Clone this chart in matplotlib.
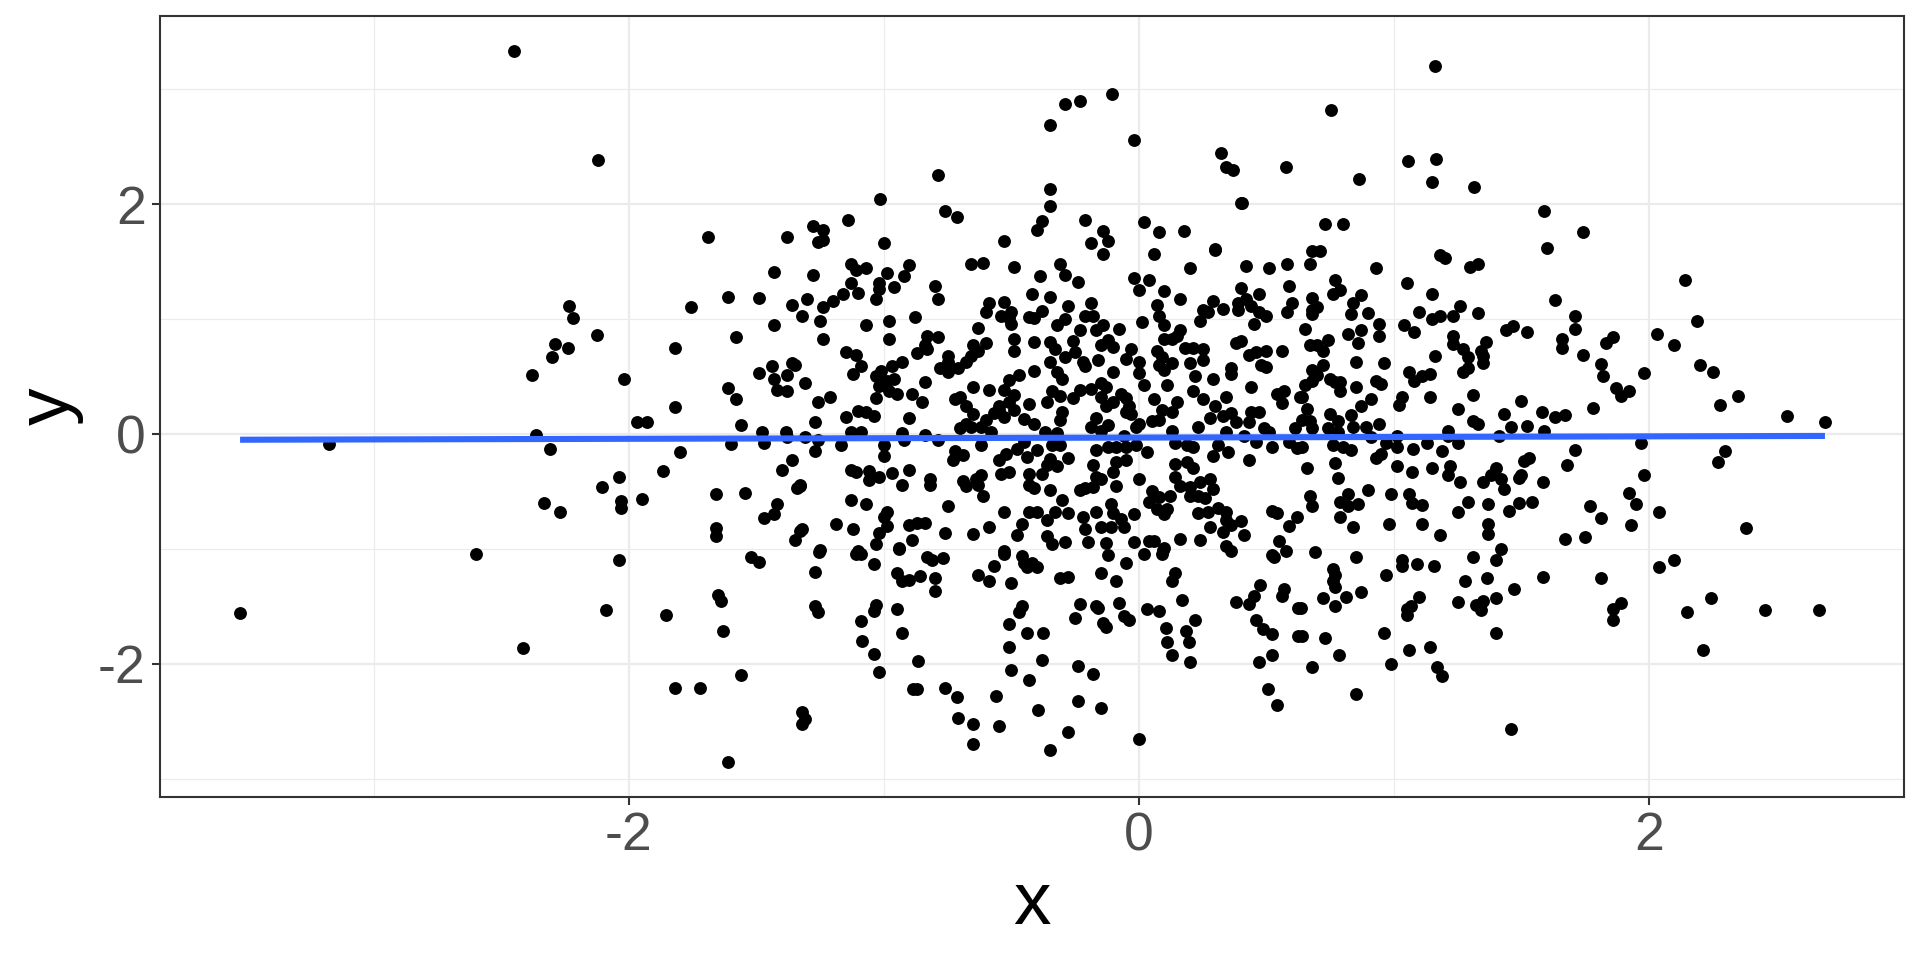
import numpy as np
import matplotlib
matplotlib.use("Agg")
import matplotlib.pyplot as plt

# far-left and outer points
x_left = [-2.45,-3.525,-3.175,-2.60,-2.417,-2.38,-2.12,-2.235,-2.22,-2.29,-2.24,-2.30,-2.125,-2.02,-2.365,-2.31,-2.335,-2.27,-2.105,-2.04,-2.03,-2.03,-1.95,-1.97,-1.93,-2.04,-2.09,-1.855,-1.865,-1.80,-1.82,-1.82,-1.755,-1.82,-1.017,-0.79]
y_left = [3.33,-1.553,-0.085,-1.04,-1.86,0.51,2.38,1.117,1.01,0.78,0.745,0.67,0.86,0.48,-0.01,-0.13,-0.60,-0.68,-0.46,-0.37,-0.585,-0.64,-0.565,0.106,0.106,-1.10,-1.53,-1.575,-0.32,-0.16,0.234,0.745,1.10,-2.21,2.04,2.255]

x_right = [1.16,0.753,1.055,1.165,1.15,1.314,0.863,2.25,2.35,2.278,2.54,2.69,2.30,2.27,2.38,2.245,2.456,2.667]
y_right = [3.20,2.82,2.37,2.39,2.19,2.15,2.22,0.54,0.33,0.255,0.16,0.106,-0.15,-0.245,-0.82,-1.425,-1.53,-1.53]

x_a1 = [-1.13,-1.11,-1.07,-0.99,-0.90,-1.28,-0.92,-1.13,-1.02,-0.96,-1.02,-1.16,-1.10,-1.03,-1.20,-1.30,-1.24,-1.32,-1.25,-1.24,-1.07,-0.98,-0.98,-0.88,-0.80,-0.79,-0.66,-0.61,-0.49,-0.31,-0.29,-0.39,-0.24,-0.14,0.06,0.30,-0.02,0.04,0.00,0.10,0.16,0.20,0.42,0.51,0.58,0.59,0.40,0.47,0.60,0.58]
y_a1 = [1.48,1.43,1.44,1.40,1.47,1.38,1.37,1.31,1.31,1.28,1.26,1.22,1.23,1.17,1.16,1.17,1.10,1.03,0.98,0.83,0.95,0.98,0.83,1.02,1.29,1.17,1.48,1.49,1.45,1.48,1.38,1.37,1.32,1.565,1.565,1.60,1.36,1.34,1.25,1.24,1.17,1.44,1.46,1.44,1.48,1.29,1.27,1.22,1.14,1.06]

x_a2 = [-0.42,-0.35,-0.59,-0.53,-0.60,-0.50,-0.54,-0.51,-0.50,-0.43,-0.41,-0.38,-0.28,-0.19,-0.21,-0.18,-0.29,-0.32,-0.14,-0.17,-0.23,-0.08,0.01,0.07,0.08,0.10,0.16,0.15,0.10,0.13,0.24,0.25,0.27,0.29,0.33,0.39,0.39,0.42,0.44,0.47,0.50,0.45]
y_a2 = [1.22,1.19,1.14,1.15,1.06,1.06,1.03,1.01,0.96,1.02,1.01,1.07,1.11,1.14,1.03,1.03,1.00,0.95,0.95,0.90,0.90,0.91,0.97,1.12,1.03,0.95,0.90,0.85,0.83,0.83,0.98,1.08,1.06,1.16,1.09,1.08,1.14,1.17,1.11,1.06,1.03,0.96]

x_a3 = [-0.63,-0.49,-0.49,-0.60,-0.41,-0.35,-0.33,-0.26,-0.25,-0.29,-0.15,-0.12,-0.10,-0.03,-0.05,0.00,-0.16,-0.35,-0.22,-0.21,-0.41,-0.10,-0.32,-0.30,0.00,0.02,0.07,0.09,0.13,0.08,0.10,0.11,0.18,0.21,0.25,0.25,0.20,0.22,0.29,0.21,0.36,0.36,0.38,0.40,0.43,0.46,0.50,0.56,0.48,0.50,0.44,0.54,0.57,0.56,0.63,0.25,0.34,0.30,0.28,0.33,0.36,0.38,0.43,0.44,0.47]
y_a3 = [0.92,0.83,0.72,0.79,0.80,0.80,0.74,0.81,0.71,0.67,0.77,0.82,0.76,0.74,0.65,0.63,0.64,0.63,0.63,0.59,0.55,0.54,0.54,0.48,0.53,0.43,0.72,0.67,0.62,0.60,0.56,0.43,0.75,0.75,0.74,0.64,0.62,0.50,0.48,0.37,0.57,0.52,0.79,0.81,0.69,0.71,0.72,0.72,0.60,0.58,0.41,0.35,0.37,0.27,0.32,0.30,0.32,0.24,0.14,0.16,0.18,0.10,0.10,0.19,0.19]

x_a4 = [-1.15,-1.11,-1.09,-1.12,-1.31,-0.87,-0.83,-0.79,-0.84,-0.83,-0.93,-0.97,-1.01,-1.03,-0.96,-0.99,-1.02,-0.98,-0.95,-1.03,-0.89,-0.84,-0.85,-1.21,-1.26,-0.75,-0.75,-0.78,-0.75,-0.71,-0.68,-0.66,-0.65,-0.63,-0.47,-0.51,-0.53,-0.49,-0.51,-0.65,-0.59,-0.72,-0.70,-0.68,-0.55,-0.43,-0.36,-0.34,-0.31,-0.26,-0.23,-0.19,-0.15,-0.13,-0.15,-0.13,-0.10,-0.07,-0.05,-0.04,-0.05,-0.03,0.06,0.15,0.13,0.09,0.08,0.05,0.00,-0.01,-0.12,-0.17,-0.19,-0.15,-0.30,-0.31,-0.41,-0.45,-0.49,-0.53,-0.57,-0.55,-0.60,-0.65,-0.68,-0.70,-0.66,-0.62,-0.58,-1.10,-1.07,-1.04,-1.15,-1.27,-0.90,-1.13,-1.09,-0.93,-0.84,-1.31,-1.26,-1.17,-1.27,-1.00,-1.00,-0.92,-0.79]
y_a4 = [0.71,0.69,0.59,0.52,0.44,0.70,0.85,0.84,0.77,0.74,0.63,0.59,0.55,0.50,0.48,0.46,0.42,0.37,0.35,0.31,0.35,0.45,0.28,0.32,0.28,0.68,0.63,0.57,0.54,0.57,0.63,0.68,0.77,0.72,0.51,0.47,0.38,0.34,0.28,0.41,0.38,0.30,0.32,0.24,0.24,0.26,0.28,0.37,0.33,0.31,0.38,0.39,0.44,0.41,0.32,0.24,0.28,0.35,0.31,0.24,0.19,0.17,0.30,0.28,0.19,0.21,0.12,0.11,0.09,0.06,0.08,0.14,0.06,0.03,0.19,0.12,0.09,0.13,0.21,0.15,0.18,0.21,0.12,0.17,0.09,0.05,0.06,0.06,0.02,0.20,0.19,0.16,0.15,0.10,0.14,0.02,0.02,0.01,-0.01,-0.03,-0.05,-0.10,-0.15,-0.10,-0.19,-0.05,-0.05]

x_a5 = [-0.37,-0.32,-0.45,-0.48,-0.52,-0.55,-0.62,-0.40,-0.44,-0.34,-0.31,-0.28,-0.17,-0.12,-0.09,-0.05,-0.01,-0.06,0.03,0.13,0.23,0.14,0.19,0.21,0.34,0.31,0.35,0.29,0.41,0.46,0.49,0.51,0.52,0.61,0.59,0.62,0.43]
y_a5 = [0.02,0.01,-0.07,-0.13,-0.17,-0.23,-0.10,-0.14,-0.20,-0.10,-0.10,-0.21,-0.14,-0.11,-0.11,-0.11,-0.10,-0.02,-0.16,0.03,0.06,-0.08,-0.10,-0.11,0.02,-0.10,-0.16,-0.19,-0.02,-0.07,0.05,0.02,-0.11,0.05,-0.07,-0.12,-0.23]

x_a6 = [-0.72,-0.69,-0.73,-1.13,-1.11,-1.06,-1.06,-1.02,-0.97,-0.90,-0.82,-0.82,-0.93,-0.69,-0.68,-0.64,-0.62,-0.63,-0.61,-0.54,-0.51,-0.43,-0.43,-0.41,-0.38,-0.36,-0.35,-0.32,-0.18,-0.17,-0.15,-0.18,-0.21,-0.23,-0.09,-0.10,-0.09,-0.05,0.00,0.14,0.19,0.21,0.14,0.16,0.20,0.24,0.28,0.29,0.26,0.20,0.23,0.05,0.08,0.12,0.04,0.07,0.11,0.10]
y_a6 = [-0.15,-0.18,-0.23,-0.31,-0.33,-0.32,-0.40,-0.37,-0.34,-0.31,-0.39,-0.44,-0.44,-0.41,-0.45,-0.39,-0.36,-0.44,-0.54,-0.35,-0.33,-0.35,-0.44,-0.47,-0.35,-0.27,-0.22,-0.28,-0.27,-0.37,-0.39,-0.46,-0.47,-0.49,-0.24,-0.33,-0.45,-0.23,-0.39,-0.26,-0.24,-0.30,-0.37,-0.45,-0.46,-0.42,-0.39,-0.48,-0.56,-0.54,-0.54,-0.50,-0.55,-0.54,-0.59,-0.65,-0.65,-0.70]

x_a7 = [-1.33,-1.13,-1.07,-0.75,-0.35,-0.30,-0.53,-0.43,-0.40,-0.33,-0.28,-0.22,-0.17,-0.11,-0.10,-0.07,-0.02,-0.36,-0.46,0.23,0.27,0.31,0.34,0.34,0.40,0.36,0.33,0.28,0.41,0.52,0.54,0.62,0.59,0.55,0.16,0.24,0.34,-0.99,-1.00,-0.99,-1.02,-1.03,-0.94,-0.90,-0.87,-0.84,-0.89,-0.76,-0.65,-0.59,-0.48,-0.36,-0.34,-0.29,-0.21,-0.20,-0.15,-0.11,-0.06,-0.13,-0.02,0.04,0.06,0.10,-1.19,-1.12,-1.32,-1.25,-1.10,-0.53]
y_a7 = [-0.45,-0.57,-0.61,-0.63,-0.49,-0.57,-0.68,-0.68,-0.68,-0.68,-0.69,-0.72,-0.68,-0.61,-0.69,-0.74,-0.70,-0.75,-0.78,-0.69,-0.68,-0.64,-0.68,-0.75,-0.76,-0.79,-0.85,-0.81,-0.88,-0.67,-0.69,-0.72,-0.80,-0.93,-0.91,-0.92,-0.97,-0.68,-0.72,-0.80,-0.86,-0.96,-0.99,-0.79,-0.77,-0.77,-0.92,-0.86,-0.87,-0.81,-0.88,-0.89,-0.96,-0.94,-0.83,-0.94,-0.81,-0.81,-0.81,-0.95,-0.94,-0.93,-0.93,-0.99,-0.78,-0.83,-0.83,-1.01,-1.02,-1.02]

x_b1 = [0.73,0.80,0.68,0.71,0.67,0.93,0.77,0.79,0.76,0.87,0.68,0.84,0.70,0.68,0.68,0.83,0.90,0.94,0.65,0.87,0.82,0.94,0.86,0.74,0.67,0.70,0.72,0.85,0.96,0.72,0.68,0.70,0.75,0.68,0.65,0.77,0.79,0.85,0.93,0.95,0.79,0.64,0.91,0.87,0.66,0.75,0.83,0.64,0.67,0.78,0.94,0.68,0.74,0.84,0.89,0.78,0.91,1.01,0.64,0.76,0.80,0.83,1.01,0.97,0.66,0.77,0.78,1.01,0.95,0.93,0.67,0.82,0.90,0.99,1.06]
y_b1 = [1.83,1.83,1.59,1.59,1.48,1.44,1.34,1.25,1.22,1.21,1.18,1.14,1.10,1.08,1.04,1.04,1.05,0.96,0.91,0.90,0.87,0.85,0.79,0.82,0.77,0.77,0.72,0.63,0.62,0.60,0.56,0.51,0.48,0.46,0.43,0.45,0.455,0.41,0.46,0.435,0.37,0.32,0.30,0.24,0.215,0.17,0.165,0.12,0.11,0.11,0.085,0.05,0.05,0.06,0.06,0.02,-0.03,-0.02,-0.11,-0.10,-0.11,-0.14,-0.11,-0.08,-0.30,-0.255,-0.38,-0.275,-0.17,-0.205,-0.54,-0.52,-0.49,-0.52,-0.525]

x_b2 = [1.59,1.74,1.60,1.18,1.20,1.30,1.33,1.05,1.15,1.63,2.14,1.26,1.10,1.33,1.18,1.15,1.23,1.71,1.04,1.08,1.465,1.44,1.52,1.71,2.19,2.03,1.23,1.23,1.36,1.66,1.66,1.86,1.83,2.10,1.27,1.34,1.35,1.16,1.29,1.74,1.35,1.29,1.27,1.81,2.20,1.82,1.98,1.06,1.14,1.11,1.08,1.87,1.92,1.89,1.14,1.31,1.03,1.02,1.50,1.25,1.78,1.43,1.58,1.63,1.67,1.31,1.33,1.46,1.52,1.21,1.59,1.21,1.41,1.97,1.13,1.25,1.075,1.19,1.71,1.53,1.51,1.68,1.22,1.15,1.07,1.21,1.40,1.38,1.42,1.35,1.26,1.50,1.49,1.585,1.43,1.98,1.92]
y_b2 = [1.94,1.76,1.62,1.56,1.53,1.455,1.48,1.31,1.215,1.165,1.34,1.11,1.06,1.05,1.03,1.00,1.03,1.03,0.95,0.89,0.94,0.90,0.89,0.91,0.98,0.87,0.85,0.78,0.80,0.83,0.75,0.84,0.79,0.77,0.74,0.72,0.68,0.68,0.67,0.69,0.615,0.57,0.54,0.61,0.60,0.50,0.53,0.54,0.52,0.50,0.46,0.40,0.37,0.33,0.325,0.34,0.32,0.25,0.29,0.22,0.23,0.17,0.19,0.15,0.165,0.115,0.09,0.065,0.07,0.03,0.03,-0.02,-0.02,-0.075,-0.075,-0.08,-0.13,-0.145,-0.14,-0.21,-0.235,-0.27,-0.28,-0.30,-0.33,-0.36,-0.30,-0.36,-0.39,-0.415,-0.42,-0.36,-0.38,-0.415,-0.48,-0.36,-0.51]

x_c = [0.68,0.79,0.82,0.86,1.07,1.11,1.25,1.29,1.37,1.45,1.49,1.54,1.77,1.95,2.04,0.79,0.84,0.98,1.11,1.81,1.93,1.18,1.37,1.37,1.67,1.75,1.42,1.31,1.40,0.69,0.85,1.03,1.03,1.09,1.155,2.10,2.04,0.76,0.77,0.76,0.77,0.97,1.585,1.81,1.365,1.28,1.47,0.87,0.81,0.72,0.77,1.10,1.065,1.05,1.05,1.25,1.32,1.35,1.40,1.34,1.89,1.86,1.86,2.15,0.635,0.64,0.73,0.96,1.40,1.14,1.06,0.785,0.99,0.68,1.17,1.19,0.85,1.46,2.21]
y_c = [-0.63,-0.59,-0.63,-0.61,-0.60,-0.62,-0.68,-0.59,-0.61,-0.67,-0.60,-0.59,-0.63,-0.61,-0.675,-0.725,-0.81,-0.785,-0.78,-0.73,-0.79,-0.88,-0.78,-0.87,-0.91,-0.90,-1.00,-1.07,-1.10,-1.03,-1.07,-1.10,-1.15,-1.13,-1.15,-1.10,-1.16,-1.17,-1.23,-1.28,-1.33,-1.23,-1.24,-1.25,-1.255,-1.28,-1.35,-1.37,-1.42,-1.43,-1.50,-1.42,-1.50,-1.525,-1.57,-1.46,-1.49,-1.45,-1.43,-1.53,-1.47,-1.525,-1.62,-1.55,-1.51,-1.76,-1.77,-1.73,-1.73,-1.85,-1.875,-1.92,-2.00,-2.03,-2.03,-2.105,-2.26,-2.565,-1.88]

x_d = [-1.69,-1.38,-1.43,-1.61,-1.49,-1.36,-1.43,-1.58,-1.44,-1.49,-1.36,-1.35,-1.38,-1.43,-1.42,-1.38,-1.61,-1.58,-1.56,-1.48,-1.385,-1.47,-1.60,-1.38,-1.36,-1.40,-1.66,-1.545,-1.34,-1.33,-1.28,-1.24,-1.24,-1.26,-1.14,-1.00,-0.76,-0.715]
y_d = [1.71,1.71,1.41,1.19,1.18,1.12,0.95,0.84,0.59,0.53,0.615,0.60,0.51,0.48,0.385,0.37,0.40,0.30,0.08,0.015,0.015,-0.08,-0.09,-0.03,-0.23,-0.31,-0.52,-0.51,-0.47,-0.44,1.81,1.77,1.69,1.67,1.86,1.66,1.94,1.885]

x_e = [-1.42,-1.43,-1.47,-1.66,-1.66,-1.35,-1.33,-1.52,-1.49,-1.255,-1.11,-1.09,-1.04,-0.94,-0.83,-0.81,-0.77,-0.95,-0.93,-0.90,-0.86,-0.80,-0.80,-1.27,-0.63,-0.59,-0.57,-1.65,-1.64,-1.27,-1.26,-1.03,-1.04,-0.95,-1.09,-1.63,-0.93,-1.085,-1.04,-0.865,-1.02,-1.56,-1.72,-0.885,-0.87,-0.76,-0.715,-0.56,-0.71,-0.65,-0.55,-0.65,-1.32,-1.31,-1.32,-1.61]
y_e = [-0.61,-0.70,-0.73,-0.82,-0.89,-0.92,-0.84,-1.07,-1.11,-1.03,-1.04,-1.04,-1.13,-1.00,-1.07,-1.10,-1.08,-1.21,-1.28,-1.27,-1.235,-1.255,-1.365,-1.20,-1.23,-1.28,-1.15,-1.40,-1.45,-1.50,-1.55,-1.49,-1.54,-1.525,-1.63,-1.71,-1.73,-1.80,-1.91,-1.97,-2.07,-2.10,-2.21,-2.215,-2.215,-2.21,-2.29,-2.28,-2.47,-2.52,-2.54,-2.70,-2.42,-2.48,-2.52,-2.85]

x_f = [-0.53,-0.46,-0.45,-0.42,-0.44,-0.40,-0.12,-0.05,0.02,0.09,0.095,-0.15,-0.09,-0.31,-0.28,-0.50,0.14,0.13,0.36,0.52,0.53,0.575,0.475,0.45,0.43,0.38,0.57,0.56,0.17,-0.23,-0.17,-0.16,-0.08,-0.46,-0.47,-0.25,0.03,0.08,0.625,-0.06,-0.04,0.22,-0.51,-0.14,-0.13,0.106,0.185,0.196,0.46,0.485,0.52,0.625,-0.44,-0.375,0.11,-0.51,0.13,0.52,0.20,0.47,-0.38,-0.24,-0.50,-0.18,-0.43,0.505,0.54,-0.24,-0.15,-0.395,-0.28,0.00,-0.35]
y_f = [-1.04,-1.06,-1.125,-1.125,-1.16,-1.16,-1.055,-1.12,-1.04,-1.04,-1.01,-1.21,-1.28,-1.255,-1.24,-1.30,-1.21,-1.28,-1.015,-1.05,-1.07,-1.015,-1.31,-1.41,-1.48,-1.46,-1.35,-1.41,-1.44,-1.48,-1.50,-1.51,-1.47,-1.50,-1.545,-1.60,-1.52,-1.54,-1.51,-1.58,-1.62,-1.62,-1.65,-1.64,-1.675,-1.69,-1.71,-1.81,-1.62,-1.70,-1.74,-1.76,-1.73,-1.73,-1.81,-1.855,-1.92,-1.92,-1.98,-1.985,-1.965,-2.02,-2.055,-2.085,-2.14,-2.22,-2.36,-2.32,-2.38,-2.40,-2.595,-2.65,-2.75]

x_g = [-0.105,-0.23,-0.29,-0.35,-0.02,0.32,0.34,0.37,0.575,-0.35,-0.35,0.40,0.405,-0.38,-0.40,-0.21,0.02,0.08,0.175,-0.14,-0.53,-0.19,-0.12,0.30]
y_g = [2.96,2.895,2.87,2.69,2.56,2.44,2.32,2.30,2.32,2.13,1.98,2.01,2.01,1.85,1.77,1.86,1.84,1.76,1.765,1.765,1.68,1.66,1.68,1.61]

line_x = [-3.525, 2.69]
line_y = [-0.05, -0.017]

x_ticks = [-2, 0, 2]
y_ticks = [-2, 0, 2]
x_minor = [-3, -1, 1]
y_minor = [-3, -1, 1, 3]
tick_labels = ["-2", "0", "2"]

x_groups = [x_left, x_right, x_a1, x_a2, x_a3, x_a4, x_a5, x_a6, x_a7, x_b1, x_b2, x_c, x_d, x_e, x_f, x_g]
y_groups = [y_left, y_right, y_a1, y_a2, y_a3, y_a4, y_a5, y_a6, y_a7, y_b1, y_b2, y_c, y_d, y_e, y_f, y_g]
xs = np.concatenate(x_groups)
ys = np.concatenate(y_groups)

plt.rcParams['font.family'] = ['Liberation Sans', 'DejaVu Sans']
fig = plt.figure(figsize=(19.2, 9.6), dpi=100, facecolor='white')
ax = fig.add_axes([160/1920, 1-797/960, 1744/1920, 781/960])
ax.set_xlim(-3.839, 3.0)
ax.set_ylim(-3.157, 3.635)
ax.set_axisbelow(True)
ax.set_xticks(x_ticks)
ax.set_xticklabels(tick_labels)
ax.set_yticks(y_ticks)
ax.set_yticklabels(tick_labels)
ax.set_xticks(x_minor, minor=True)
ax.set_yticks(y_minor, minor=True)
ax.grid(True, which='major', color='#EBEBEB', lw=1.6)
ax.grid(True, which='minor', color='#EBEBEB', lw=0.8)
ax.tick_params(which='minor', length=0)
ax.tick_params(which='major', length=5.8, width=1.5, color='#333333',
               labelcolor='#4D4D4D', labelsize=38.5, pad=4.5)
for s in ax.spines.values():
    s.set_color('#333333')
    s.set_linewidth(1.5)
ax.scatter(xs, ys, s=86, c='black', linewidths=0, zorder=3)
ax.plot(line_x, line_y, color='#3366FF', lw=4.4, zorder=4, solid_capstyle='butt')
ax.set_xlabel('x', fontsize=54, labelpad=6)
ax.set_ylabel('y', fontsize=54, labelpad=10)
fig.savefig('out.png', dpi=100)
